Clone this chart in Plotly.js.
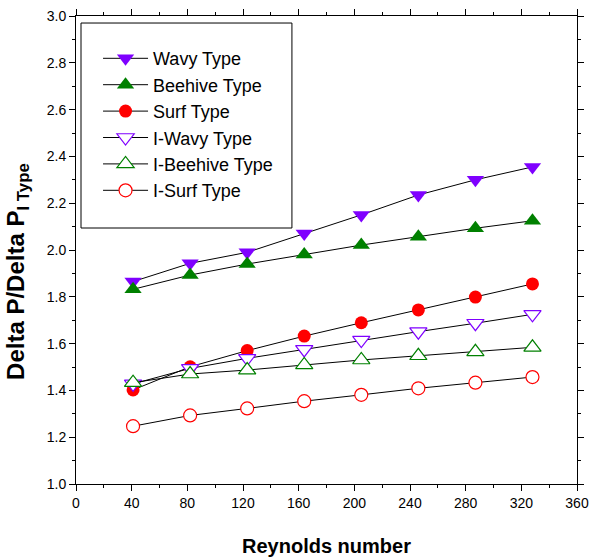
<!DOCTYPE html>
<html>
<head>
<meta charset="utf-8">
<script src="https://cdn.plot.ly/plotly-3.0.1.min.js"></script>
<style>html,body{margin:0;padding:0;background:#fff;}#chart{width:590px;height:560px;}</style>
</head>
<body>
<div id="chart"></div>
<script>
const reynolds = [41, 82, 123, 164, 205, 246, 287, 328];
const wavy = [1.865, 1.943, 1.990, 2.071, 2.150, 2.235, 2.300, 2.355];
const beehive = [1.832, 1.893, 1.940, 1.981, 2.021, 2.057, 2.093, 2.125];
const surf = [1.402, 1.501, 1.570, 1.632, 1.689, 1.744, 1.799, 1.855];
const iWavy = [1.428, 1.494, 1.537, 1.575, 1.615, 1.651, 1.687, 1.725];
const iBeehive = [1.433, 1.470, 1.487, 1.509, 1.530, 1.548, 1.565, 1.584];
const iSurf = [1.247, 1.293, 1.323, 1.354, 1.381, 1.409, 1.433, 1.457];
const seriesNames = ['Wavy Type', 'Beehive Type', 'Surf Type', 'I-Wavy Type', 'I-Beehive Type', 'I-Surf Type'];
const yTitle = '<b>Delta P/Delta P<sub>I Type</sub></b>';
const xTitle = '<b>Reynolds number</b>';

const purple = '#7F00FF', green = '#008000', red = '#FF0000';
function tr(name, y, symbol, color, size, open) {
  return {
    x: reynolds, y: y, name: name, type: 'scatter', mode: 'lines+markers',
    line: {color: '#000', width: 1},
    marker: open ? {symbol: symbol, size: size, color: '#fff', line: {color: color, width: 1.2}}
                 : {symbol: symbol, size: size, color: color, line: {width: 0}}
  };
}
const data = [
  tr(seriesNames[0], wavy, 'triangle-down', purple, 15, false),
  tr(seriesNames[1], beehive, 'triangle-up', green, 15, false),
  tr(seriesNames[2], surf, 'circle', red, 13, false),
  tr(seriesNames[3], iWavy, 'triangle-down', purple, 15, true),
  tr(seriesNames[4], iBeehive, 'triangle-up', green, 15, true),
  tr(seriesNames[5], iSurf, 'circle', red, 13, true)
];
const fontFam = '"Liberation Sans", Arial, sans-serif';
const layout = {
  width: 590, height: 560,
  margin: {l: 76, r: 13, t: 16, b: 76},
  paper_bgcolor: '#fff', plot_bgcolor: '#fff',
  font: {family: fontFam, color: '#000'},
  showlegend: true,
  legend: {x: 0.044, y: 0.9485, xanchor: 'left', yanchor: 'top', bgcolor: 'rgba(0,0,0,0)',
    borderwidth: 0, itemwidth: 45, font: {size: 18, family: fontFam, color: '#000'}, tracegroupgap: 0},
  xaxis: {
    range: [0, 360], dtick: 40, tick0: 0, showgrid: false, zeroline: false,
    showline: true, linecolor: '#000', linewidth: 1, mirror: 'ticks',
    ticks: 'outside', ticklen: 6, tickcolor: '#000',
    minor: {dtick: 20, ticks: 'outside', ticklen: 3, tickcolor: '#000'},
    tickfont: {size: 14, family: fontFam, color: '#000'},
    title: {text: xTitle, font: {size: 20, family: fontFam, color: '#000'}, standoff: 29}
  },
  yaxis: {
    range: [1.0, 3.0], dtick: 0.2, tick0: 1.0, tickformat: '.1f', showgrid: false, zeroline: false,
    showline: true, linecolor: '#000', linewidth: 1, mirror: 'ticks',
    ticks: 'outside', ticklen: 6, tickcolor: '#000',
    minor: {dtick: 0.1, ticks: 'outside', ticklen: 3, tickcolor: '#000'},
    tickfont: {size: 14, family: fontFam, color: '#000'}
  },
  annotations: [{text: yTitle, xref: 'paper', yref: 'paper', x: -0.118, y: 0.455,
    xanchor: 'center', yanchor: 'middle', textangle: -90, showarrow: false,
    font: {size: 24, family: fontFam, color: '#000'}}],
  shapes: [{type: 'rect', xref: 'paper', yref: 'paper', x0: 0.01, x1: 0.431, y0: 0.547, y1: 0.985,
    line: {color: '#000', width: 1}, fillcolor: 'rgba(0,0,0,0)', layer: 'above'}]
};
Plotly.newPlot('chart', data, layout, {displayModeBar: false, staticPlot: true});
</script>
</body>
</html>
